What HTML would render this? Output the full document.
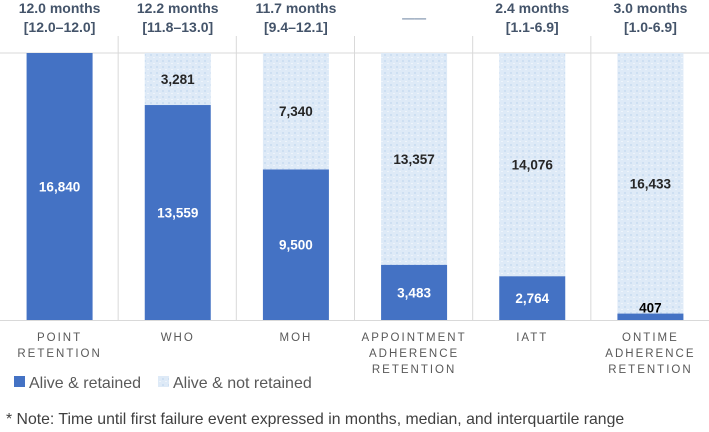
<!DOCTYPE html>
<html><head><meta charset="utf-8"><style>
body{margin:0;background:#fff}
svg text{font-family:"Liberation Sans",sans-serif}
</style></head><body>
<svg id="chart" width="709" height="427" viewBox="0 0 709 427" xmlns="http://www.w3.org/2000/svg">
<defs>
<pattern id="lt" width="6" height="6" patternUnits="userSpaceOnUse">
<rect width="6" height="6" fill="#deeaf7"/>
<rect x="0" y="0" width="2" height="2" fill="#cddff2"/>
<rect x="3" y="3" width="2" height="1" fill="#eef4fb"/>
</pattern>
</defs>
<g id="grid"></g>
<g id="bars"></g>
<g id="labels"></g>
<g>
<rect x="14" y="376" width="11" height="11" fill="#4472c4"/>
<text x="29" y="388" font-size="16" fill="#595959">Alive &amp; retained</text>
<rect x="158" y="376" width="11" height="11" fill="url(#lt)"/>
<text x="173" y="388" font-size="16" fill="#595959">Alive &amp; not retained</text>
</g>
<text x="6" y="424" font-size="15.8" fill="#404040">* Note: Time until first failure event expressed in months, median, and interquartile range</text>
</svg>
<script>
const categories=[["POINT","RETENTION"],["WHO"],["MOH"],["APPOINTMENT","ADHERENCE","RETENTION"],["IATT"],["ONTIME","ADHERENCE","RETENTION"]];
const retained=[16840,13559,9500,3483,2764,407];
const notRetained=[0,3281,7340,13357,14076,16433];
const headerTop=["12.0 months","12.2 months","11.7 months","","2.4 months","3.0 months"];
const headerBottom=["[12.0\u201312.0]","[11.8\u201313.0]","[9.4\u201312.1]","\u2014\u2014","[1.1-6.9]","[1.0-6.9]"];
const yMax=16840;
const NS="http://www.w3.org/2000/svg";
const colW=709/6, base=320, plotH=267, barW=66;
const yS=v=>base-v/yMax*plotH;
const xS=i=>i*colW+colW/2+0.5;
function mk(tag,attrs,parent,txt){const e=document.createElementNS(NS,tag);for(const k in attrs)e.setAttribute(k,attrs[k]);if(txt!==undefined)e.textContent=txt;parent.appendChild(e);return e;}
const gridG=document.getElementById('grid'),barsG=document.getElementById('bars'),labelsG=document.getElementById('labels');
for(let i=1;i<6;i++){const l=mk('line',{x1:i*colW,x2:i*colW,y1:36,y2:base,stroke:'#d9d9d9','stroke-width':1},gridG);

}
const topLine=mk('line',{x1:0,x2:709,y1:yS(yMax),y2:yS(yMax),stroke:'#d9d9d9'},gridG);


const axisLine=mk('line',{x1:0,x2:709,y1:base+0.5,y2:base+0.5,stroke:'#d9d9d9'},gridG);


categories.forEach((c,i)=>{
 const cx=xS(i);
 const r=mk('rect',{x:cx-barW/2,y:yS(retained[i]),width:barW,height:base-yS(retained[i]),fill:'#4472c4'},barsG);
 
 
 if(notRetained[i]>0){
  const n=mk('rect',{x:cx-barW/2,y:yS(retained[i]+notRetained[i]),width:barW,height:yS(retained[i])-yS(retained[i]+notRetained[i]),fill:'url(#lt)'},barsG);
  
  
  const t=mk('text',{x:cx,y:(yS(retained[i])+yS(retained[i]+notRetained[i]))/2+5,'font-size':13.5,'font-weight':'bold',fill:'#262626','text-anchor':'middle'},labelsG,notRetained[i].toLocaleString('en-US'));
  
  
 }
 const small=base-yS(retained[i])<20;
 const ry=small?yS(retained[i])-1:(yS(retained[i])+base)/2+5;
 const vt=mk('text',{x:cx,y:ry,'font-size':13.5,'font-weight':'bold',fill:small?'#000':'#fff','text-anchor':'middle'},labelsG,retained[i].toLocaleString('en-US'));
 
 
 const h1=mk('text',{x:cx,y:13,'font-size':14,'font-weight':'bold',fill:'#44546a','text-anchor':'middle'},labelsG,headerTop[i]);
 
 
 const h2=mk('text',{x:cx,y:i===3?22:32,'font-size':i===3?12:14,'font-weight':'bold',fill:i===3?'#8497b0':'#44546a','text-anchor':'middle'},labelsG,headerBottom[i]);
 
 
 c.forEach((ln,j)=>{
  const ct=mk('text',{x:cx,y:341+j*16,'font-size':11.5,fill:'#595959','text-anchor':'middle','letter-spacing':'2'},labelsG,ln);
  
  
 });
});
</script>
</body></html>
